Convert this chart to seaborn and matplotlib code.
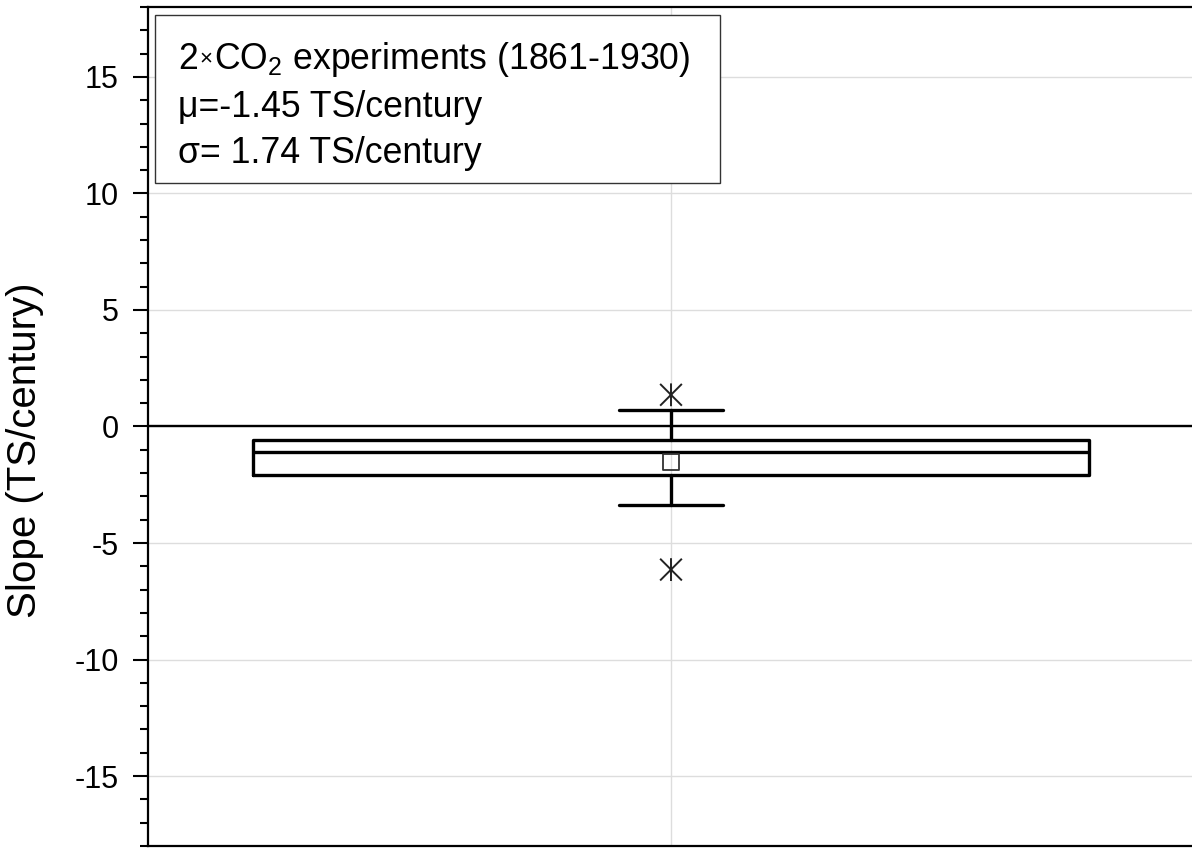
import matplotlib
matplotlib.use("Agg")
import matplotlib.pyplot as plt
import seaborn as sns
import pandas as pd
from matplotlib.patches import Rectangle
from matplotlib.path import Path
from matplotlib.ticker import MultipleLocator

# ---- data ----
experiment = ["2xCO2 (1861-1930)"]
q1_values = [-2.07]
median_values = [-1.10]
q3_values = [-0.57]
whisker_low = [-3.36]
whisker_high = [0.72]
mean_values = [-1.51]
extreme_values = [1.36, -6.14]
title_parts = ["2", "×", "CO$_2$ experiments (1861-1930)"]
info_lines = ["μ=-1.45 TS/century",
              "σ= 1.74 TS/century"]
y_label = "Slope (TS/century)"
y_major_step = 5
y_limits = (-18, 18)

sns.set_theme(style="ticks")
plt.rcParams['font.family'] = ['Liberation Sans', 'DejaVu Sans']
plt.rcParams['mathtext.fontset'] = 'custom'
plt.rcParams['mathtext.rm'] = 'Liberation Sans'
plt.rcParams['mathtext.it'] = 'Liberation Sans:italic'
plt.rcParams['mathtext.bf'] = 'Liberation Sans:bold'
plt.rcParams['axes.unicode_minus'] = False
plt.rcParams['text.color'] = 'black'
plt.rcParams['axes.labelcolor'] = 'black'

W, H = 1192, 848
fig = plt.figure(figsize=(W / 100, H / 100), dpi=100)
left_px, right_px, top_px, bot_px = 148, 1194, 7, 846
ax = fig.add_axes([left_px / W, 1 - bot_px / H, (right_px - left_px) / W, (bot_px - top_px) / H])

positions = [1]
stats = []
for i, name in enumerate(experiment):
    stats.append(dict(label=name, med=median_values[i], q1=q1_values[i], q3=q3_values[i],
                      whislo=whisker_low[i], whishi=whisker_high[i], fliers=[]))

lw = 2.4
ax.bxp(stats, positions=positions, widths=0.8, capwidths=0.1, showfliers=False,
       boxprops=dict(color='black', linewidth=lw),
       whiskerprops=dict(color='black', linewidth=lw),
       capprops=dict(color='black', linewidth=lw),
       medianprops=dict(color='black', linewidth=lw))

# Origin-style asterisk: an "x" with a vertical bar
star_path = Path([(-1, -1), (1, 1), (-1, 1), (1, -1), (0, -1.05), (0, 1.05)],
                 [Path.MOVETO, Path.LINETO, Path.MOVETO, Path.LINETO, Path.MOVETO, Path.LINETO])

df_ext = pd.DataFrame({"pos": [positions[0]] * len(extreme_values), "value": extreme_values})
sns.scatterplot(data=df_ext, x="pos", y="value", marker=star_path, s=270,
                facecolors='none', edgecolor='#222222',
                linewidth=1.4, ax=ax, legend=False, zorder=4)
df_mean = pd.DataFrame({"pos": positions, "value": mean_values})
sns.scatterplot(data=df_mean, x="pos", y="value", marker='s', s=132, facecolors='none',
                edgecolor='#333333', linewidth=1.3, ax=ax, legend=False, zorder=4)

ax.axhline(0, color='black', linewidth=1.7, zorder=1.5)

ax.set_xlim(0.5, 1.5)
ax.set_ylim(*y_limits)
ax.set_xticks(positions)
ax.set_xticklabels([""])
ax.tick_params(axis='x', length=0)
ax.set_xlabel("")
ax.yaxis.set_major_locator(MultipleLocator(y_major_step))
ax.yaxis.set_minor_locator(MultipleLocator(1))
ax.tick_params(axis='y', which='major', direction='out', length=11, width=1.5,
               labelsize=22, pad=10, colors='black', left=True, right=False)
ax.tick_params(axis='y', which='minor', direction='out', length=6, width=1.5,
               colors='black', left=True, right=False)

ax.grid(True, which='major', color='#dddddd', linewidth=1.0)
ax.set_axisbelow(True)
for sp in ax.spines.values():
    sp.set_visible(True)
    sp.set_color('black')
    sp.set_linewidth(1.6)

ax.set_ylabel(y_label, fontsize=29, va='center', color='black')
ax.yaxis.set_label_coords(-0.118, 0.472)

def ax_y(px):
    return 1 - (px - top_px) / (bot_px - top_px)

def ax_x(px):
    return (px - left_px) / (right_px - left_px)

bx0, bx1, by0, by1 = 155, 720, 15, 183
ax.add_patch(Rectangle((ax_x(bx0), ax_y(by1)), ax_x(bx1) - ax_x(bx0), ax_y(by0) - ax_y(by1),
                       transform=ax.transAxes, facecolor='white', edgecolor='#333333',
                       linewidth=1.0, zorder=5))

fs = 25.7
text_x = ax_x(178)
base1 = ax_y(69)
t1 = ax.text(text_x, base1, title_parts[0], transform=ax.transAxes, fontsize=fs,
             va='baseline', ha='left', zorder=6)
t2 = ax.annotate(title_parts[1], xy=(1, base1 + 0.006), xycoords=(t1, ax.transAxes),
                 xytext=(1, 0), textcoords='offset points',
                 fontsize=16, va='baseline', ha='left', zorder=6,
                 annotation_clip=False)
t3 = ax.annotate(title_parts[2], xy=(1, base1), xycoords=(t2, ax.transAxes),
                 xytext=(1, 0), textcoords='offset points',
                 fontsize=fs, va='baseline', ha='left', zorder=6,
                 annotation_clip=False)
for line, base in zip(info_lines, [117, 163]):
    ax.text(text_x, ax_y(base), line, transform=ax.transAxes, fontsize=fs,
            va='baseline', ha='left', color='black', zorder=6)

fig.savefig("out.png", dpi=100)
